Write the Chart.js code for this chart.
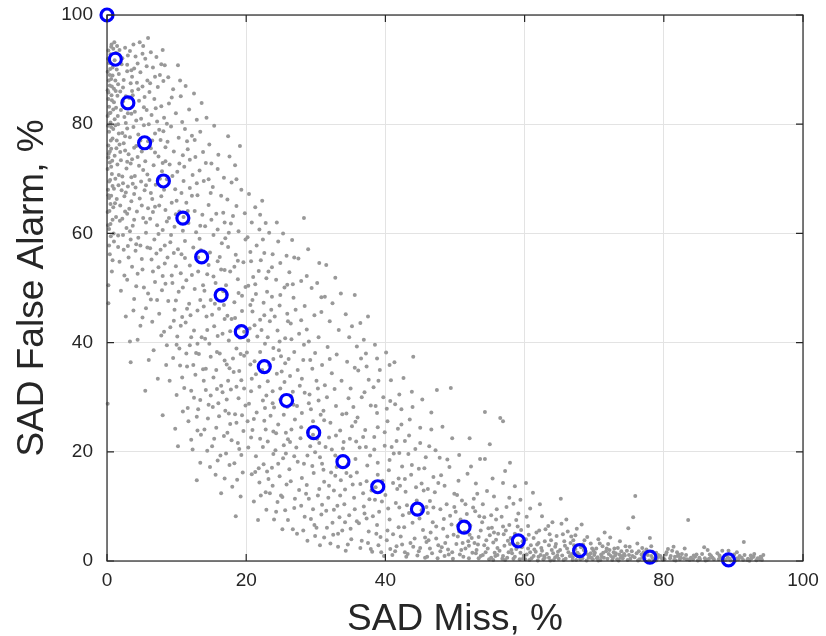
<!DOCTYPE html>
<html>
<head>
<meta charset="utf-8">
<script src="https://cdn.jsdelivr.net/npm/chart.js@4.4.1/dist/chart.umd.min.js"></script>
<style>
  body { margin: 0; background: #fff; }
  canvas { display: block; }
</style>
</head>
<body>
<canvas id="myChart" width="826" height="636"></canvas>
<script>
// operating points (blue circles)
const missRate = [0, 1.2, 3.0, 5.4, 8.1, 10.9, 13.6, 16.4, 19.3, 22.6, 25.8, 29.7, 33.9, 38.9, 44.6, 51.3, 59.1, 67.9, 78.0, 89.3];
const falseAlarm = [100, 91.9, 83.9, 76.6, 69.6, 62.8, 55.7, 48.7, 42.0, 35.6, 29.4, 23.5, 18.2, 13.6, 9.5, 6.2, 3.7, 1.9, 0.7, 0.2];

// per-configuration results (gray cloud), [miss, false alarm]
const cloud = [
  [0.2,93.5],[0.5,92.8],[0.3,91.2],[0.8,90.4],[0.1,89.6],[0.6,88.3],[0.4,87.1],[1.0,86.5],[0.2,85.8],[0.7,84.4],[0.3,83.2],[0.9,82.7],[0.1,81.5],[0.5,80.3],[1.2,79.8],[0.3,78.6],[0.8,77.4],[0.2,76.1],[0.6,75.5],[1.1,74.2],[0.4,73.0],[0.1,71.8],[0.7,70.9],[0.3,69.5],[1.0,68.2],[0.2,67.0],[0.5,65.4],[0.1,63.9],[0.8,62.5],[0.3,60.8],[0.2,47.2],[0.1,28.8],[1.3,93.1],[1.4,90.0],[1.2,88.0],[1.5,85.2],[1.3,83.0],[1.1,80.9],[1.4,77.0],[1.5,72.6],[1.2,70.0],[1.4,66.3],[1.3,63.0],[1.0,58.5],[0.6,94.2],[0.9,93.8],[0.4,89.0],[0.7,86.9],[0.2,84.6],[0.5,82.1],[0.9,79.1],[0.4,75.0],[0.6,72.2],[0.3,66.5],[0.9,64.8],[0.5,61.7],[0.4,56.2],[0.7,53.0],[0.2,50.5],[1.1,91.7],[0.8,88.9],[0.1,86.2],[1.0,84.0],[0.6,79.5],[0.2,73.9],[0.8,68.7],
  [1.8,93.6],[2.2,92.1],[2.6,94.0],[3.0,92.6],[3.3,93.4],[1.7,89.2],[2.4,88.1],[2.9,89.7],[3.4,87.5],[1.9,86.0],[2.7,85.1],[3.2,84.8],[2.0,82.6],[2.5,81.3],[3.5,81.9],[1.6,80.0],[2.2,78.4],[2.9,79.2],[3.3,77.6],[1.8,76.3],[2.6,75.2],[3.1,74.5],[2.0,73.4],[2.8,71.9],[3.4,72.8],[1.7,70.7],[2.3,69.2],[3.0,68.6],[2.5,66.8],[1.9,65.1],[3.2,64.5],[2.2,62.7],[2.8,61.0],[1.6,59.6],[3.4,58.9],[2.4,57.0],[1.8,54.8],[3.1,55.6],[2.0,49.5],[2.7,44.8],[3.3,40.2],[2.1,91.0],[2.9,90.9],[3.5,89.9],[1.6,87.3],[2.3,84.2],[3.0,82.0],[2.6,77.8],[1.9,74.9],[3.5,70.3],[2.1,67.9],[2.9,63.6],[3.3,60.4],[2.5,52.3],
  [3.8,94.6],[4.7,95.0],[5.2,94.3],[5.9,95.8],[4.1,92.4],[5.5,92.0],[3.9,90.2],[4.8,89.5],[5.7,90.6],[4.3,87.6],[5.1,86.9],[5.8,88.0],[3.7,85.3],[4.6,84.3],[5.4,85.0],[4.0,82.3],[4.9,81.0],[5.7,82.6],[3.8,79.5],[4.5,78.1],[5.3,79.8],[4.2,76.0],[5.0,75.0],[5.9,76.9],[3.6,73.6],[4.6,72.4],[5.5,73.2],[4.0,70.5],[4.9,69.5],[5.8,70.8],[3.9,67.2],[4.7,66.4],[5.4,67.9],[4.3,64.0],[5.2,62.8],[5.9,64.6],[3.7,61.4],[4.5,59.2],[5.6,60.1],[4.1,56.8],[5.0,55.3],[5.8,57.4],[4.4,52.6],[5.3,50.1],[3.9,48.0],[5.6,46.3],[4.8,43.1],[5.1,92.9],[4.4,91.1],[3.6,88.7],[5.3,83.1],[4.8,77.0],[5.6,68.8],[4.2,58.0],
  [6.3,93.2],[7.1,92.3],[8.0,93.6],[6.6,90.4],[7.6,89.0],[8.3,90.8],[6.2,87.5],[7.3,86.8],[8.1,87.9],[6.8,84.6],[7.8,83.3],[6.4,81.7],[7.2,80.5],[8.2,81.2],[6.9,78.3],[7.7,77.1],[6.3,75.6],[7.4,74.1],[8.4,75.8],[6.7,72.5],[7.9,71.4],[6.1,69.8],[7.0,68.9],[8.2,68.0],[6.5,66.3],[7.5,65.1],[8.4,64.3],[6.2,62.7],[7.2,61.5],[8.0,60.6],[6.8,58.9],[7.7,57.0],[6.4,55.2],[7.4,53.8],[8.3,54.5],[6.9,51.1],[7.9,49.6],[6.3,47.9],[7.5,45.3],[8.2,42.0],[6.7,38.6],[7.3,33.4],[6.1,85.9],[7.5,79.0],[8.0,72.9],[6.6,63.9],[7.1,56.3],[8.4,50.8],
  [8.8,88.6],[10.2,90.8],[9.5,86.4],[10.6,85.1],[8.9,83.8],[9.9,82.0],[10.8,80.4],[9.2,79.6],[10.3,77.5],[8.7,76.8],[9.6,75.0],[10.9,74.3],[9.0,72.6],[10.1,71.3],[8.6,69.9],[9.8,68.1],[10.7,67.4],[9.3,65.6],[10.4,64.0],[8.9,62.8],[9.7,61.2],[10.9,60.5],[9.1,58.4],[10.2,57.1],[8.7,55.6],[9.9,54.0],[10.6,52.7],[9.4,50.9],[10.3,49.3],[8.8,47.6],[9.7,46.0],[10.8,44.7],[9.1,42.8],[10.1,41.1],[8.6,39.5],[9.5,37.2],[10.5,35.8],[9.0,33.0],[10.0,30.4],[9.8,24.2],[10.2,21.0],[8.0,26.7],[9.3,84.9],[10.5,88.0],[8.6,80.1],[10.0,66.0],[9.2,59.7],[10.7,56.2],[9.6,44.0],[10.4,38.9],
  [11.3,87.0],[12.5,85.6],[13.6,83.9],[11.8,82.7],[12.9,80.8],[11.2,79.1],[12.2,77.9],[13.4,78.6],[11.6,75.4],[12.7,74.0],[13.8,74.9],[11.1,72.2],[12.3,70.7],[13.3,71.5],[11.9,68.3],[13.0,67.0],[11.4,65.6],[12.6,64.1],[13.7,63.4],[11.7,61.9],[12.8,60.2],[11.2,58.6],[12.4,57.4],[13.5,56.9],[11.9,54.1],[13.1,53.0],[11.4,51.4],[12.6,49.8],[13.8,50.5],[11.8,47.1],[13.0,45.9],[11.3,43.7],[12.5,42.2],[13.6,41.0],[11.9,39.5],[13.2,37.9],[11.5,35.6],[12.7,34.1],[13.9,33.0],[12.1,31.2],[13.4,29.5],[11.6,28.0],[12.9,26.4],[13.5,23.1],[12.3,20.4],[13.4,18.0],[12.9,14.8],[11.0,63.0],[12.0,45.0],[13.3,59.0],[12.2,66.9],[13.9,46.6],[11.5,76.9],[12.8,38.1],[13.1,27.8],
  [14.3,81.2],[15.4,79.7],[16.0,74.4],[17.4,77.8],[14.7,76.3],[15.9,71.8],[16.8,70.2],[14.2,72.9],[15.2,68.5],[16.4,66.9],[14.6,65.2],[15.7,63.6],[16.9,62.0],[14.1,61.3],[15.3,59.7],[16.5,58.2],[14.8,56.5],[15.9,54.9],[16.9,53.3],[14.4,52.5],[15.6,50.9],[16.7,49.4],[14.9,47.8],[16.1,46.2],[14.3,44.8],[15.4,43.0],[16.6,41.6],[14.7,39.8],[15.8,38.3],[16.9,36.7],[14.2,35.2],[15.3,33.6],[16.4,32.1],[14.9,30.3],[16.0,28.9],[17.0,27.5],[14.5,26.1],[15.7,24.4],[16.8,22.9],[15.1,21.0],[16.3,19.3],[14.8,17.2],[16.4,12.4],[15.6,15.8],[16.9,44.3],[15.0,62.5],[16.2,55.7],[14.6,69.9],[17.0,59.1],[15.5,47.1],[14.1,40.7],[16.6,30.9],[15.2,28.2],
  [17.6,74.1],[18.4,72.5],[19.1,76.0],[17.9,69.3],[19.3,68.0],[17.3,66.2],[18.6,65.0],[19.8,63.7],[17.8,61.8],[18.9,60.4],[19.9,58.9],[17.4,57.5],[18.5,56.1],[19.6,54.7],[17.7,53.0],[18.8,51.6],[19.9,50.2],[17.2,48.9],[18.3,47.4],[19.4,45.8],[17.9,44.3],[18.9,42.7],[17.5,40.4],[18.6,38.9],[19.7,37.6],[17.2,36.0],[18.2,34.6],[19.3,33.1],[17.8,31.4],[18.9,29.8],[19.9,28.5],[17.5,27.0],[18.6,25.3],[19.6,23.8],[17.9,22.1],[19.0,20.5],[18.3,17.9],[19.5,16.2],[18.0,13.6],[19.2,11.8],[18.5,8.2],[17.1,19.7],[18.1,63.2],[19.4,48.6],[17.6,35.3],[19.1,40.9],[18.8,55.0],[17.3,44.9],[19.7,31.6],[18.4,26.9],
  [20.4,67.2],[21.3,64.8],[22.3,66.0],[20.8,62.0],[21.9,60.7],[22.8,61.9],[20.2,59.3],[21.5,57.8],[22.6,56.4],[20.7,54.9],[21.8,53.1],[22.9,51.8],[20.3,50.4],[21.4,48.9],[22.5,47.3],[20.9,45.7],[22.0,44.2],[20.5,42.6],[21.6,41.1],[22.7,39.8],[20.1,38.2],[21.2,36.6],[22.3,35.0],[20.8,33.4],[21.9,31.9],[22.9,30.3],[20.4,28.8],[21.5,27.2],[22.6,25.7],[20.9,24.0],[22.0,22.4],[20.3,20.8],[21.4,19.2],[22.5,17.7],[20.8,15.9],[21.9,14.4],[22.8,12.6],[21.1,10.9],[21.7,7.5],[22.9,9.4],[20.6,36.0],[22.2,42.3],[21.0,52.0],[22.7,28.0],[20.2,25.6],[21.8,17.0],[22.4,58.9],[20.6,46.9],
  [23.3,60.1],[24.6,58.5],[25.3,60.0],[23.8,56.2],[24.9,54.6],[25.8,55.9],[23.2,53.0],[24.3,51.5],[25.5,50.1],[23.7,48.4],[24.8,46.8],[25.9,45.3],[23.4,43.9],[24.5,42.2],[25.6,40.8],[23.9,39.0],[25.0,37.5],[23.3,35.9],[24.4,34.3],[25.5,32.8],[23.8,31.1],[24.9,29.6],[25.9,28.2],[23.5,26.6],[24.6,25.0],[25.7,23.5],[23.1,21.9],[24.2,20.3],[25.3,18.8],[23.7,17.1],[24.8,15.5],[25.8,14.0],[23.4,12.4],[24.5,10.8],[25.6,9.3],[24.0,7.6],[25.2,5.8],[23.6,46.0],[25.1,34.7],[24.0,28.1],[25.4,21.2],[23.2,15.0],[24.7,38.6],[25.9,50.6],[23.9,23.7],[25.0,12.0],
  [28.3,62.8],[26.6,58.8],[27.5,55.4],[28.9,57.1],[26.2,52.9],[27.9,51.3],[29.4,50.0],[26.8,48.2],[28.4,46.7],[29.8,45.0],[26.4,43.5],[27.6,41.6],[29.0,40.2],[26.9,38.3],[28.2,36.8],[29.5,35.2],[26.3,33.9],[27.7,32.1],[29.1,30.5],[26.8,28.6],[28.0,27.1],[29.6,25.6],[26.5,24.1],[27.8,22.5],[29.2,21.0],[26.9,19.2],[28.3,17.8],[29.7,16.1],[26.4,14.6],[27.6,13.0],[29.0,11.4],[26.9,9.7],[28.4,8.1],[29.8,6.6],[27.3,5.0],[28.8,3.7],[29.9,19.9],[27.1,46.0],[28.7,42.4],[26.1,37.0],[29.3,27.8],[27.4,18.2],[28.6,12.3],[26.7,31.0],[29.6,9.5],[28.0,33.4],[27.0,25.9],[29.9,38.1],[26.3,21.8],[28.9,23.6],
  [30.5,54.6],[31.5,54.2],[31.3,48.4],[30.2,50.9],[32.4,47.2],[33.6,49.0],[30.8,45.6],[32.0,43.9],[33.3,42.3],[30.4,41.0],[31.7,39.2],[33.0,37.8],[30.9,35.9],[32.3,34.4],[33.7,33.0],[30.3,31.6],[31.6,30.0],[32.9,28.4],[30.7,26.8],[32.1,25.3],[33.5,23.9],[30.2,22.4],[31.4,20.9],[32.8,19.3],[30.9,17.8],[32.2,16.2],[33.6,14.8],[30.5,13.2],[31.8,11.6],[33.1,10.1],[30.8,8.5],[32.4,7.0],[33.8,5.6],[31.2,4.3],[33.2,2.6],[32.0,37.0],[31.1,27.5],[33.9,20.6],[30.6,19.0],[32.6,12.9],[31.5,9.2],[33.4,8.0],[30.1,6.1],[32.7,31.5],[31.9,22.6],[33.0,17.2],[30.4,29.4],[31.2,14.5],[33.8,26.9],[32.5,4.8],
  [35.6,48.7],[34.3,45.2],[36.4,43.6],[37.5,44.8],[34.8,41.0],[35.9,39.3],[37.2,38.0],[34.5,36.5],[36.1,34.9],[37.6,33.2],[35.0,31.6],[36.6,30.0],[37.9,28.5],[34.4,27.0],[35.7,25.5],[37.1,24.0],[34.9,22.4],[36.3,20.8],[37.8,19.3],[34.6,17.7],[35.9,16.2],[37.3,14.6],[34.2,13.1],[35.5,11.6],[36.9,10.0],[34.8,8.4],[36.2,6.9],[37.6,5.4],[35.1,4.0],[36.6,3.7],[37.9,2.2],[34.3,1.9],[36.0,26.3],[37.4,17.5],[35.3,14.0],[36.8,12.4],[34.7,29.8],[37.0,8.7],[35.8,21.9],[36.5,37.1],[34.1,10.4],[37.7,11.3],
  [38.5,39.6],[40.1,38.2],[41.3,36.4],[39.2,35.0],[40.8,33.1],[38.3,31.8],[39.7,30.0],[41.4,28.7],[38.8,27.1],[40.3,25.6],[41.8,24.2],[38.4,22.7],[39.9,21.1],[41.2,19.7],[38.9,18.0],[40.5,16.6],[41.9,15.1],[38.6,13.5],[40.0,12.1],[41.5,10.6],[39.1,9.0],[40.6,7.6],[41.9,6.2],[38.7,5.0],[40.2,3.8],[41.6,2.7],[39.4,1.6],[41.0,1.1],[38.2,8.2],[39.6,14.7],[40.9,20.9],[41.7,13.2],[38.9,24.5],[40.4,9.6],[39.3,4.4],[41.1,4.9],[38.5,11.2],[40.7,29.3],
  [44.0,37.4],[42.6,33.5],[43.8,31.0],[45.3,29.6],[42.3,27.8],[43.5,25.9],[45.0,24.4],[42.8,22.0],[44.3,20.5],[45.8,19.0],[42.4,17.3],[43.7,15.8],[45.2,14.2],[42.9,12.7],[44.5,11.1],[45.9,9.9],[42.5,8.4],[43.9,7.0],[45.4,5.7],[42.2,4.5],[43.6,3.3],[45.0,2.4],[42.8,1.6],[44.6,1.0],[45.7,0.6],[43.1,10.2],[44.8,16.9],[42.7,6.2],[45.5,12.9],[44.2,4.1],[43.3,19.6],[45.9,3.5],[42.1,13.8],[44.9,7.8],
  [47.4,31.3],[49.4,31.7],[46.6,27.2],[48.2,24.6],[49.6,22.5],[46.3,21.0],[47.8,18.9],[49.2,17.2],[46.9,15.4],[48.5,13.8],[49.9,12.3],[46.4,11.0],[47.9,9.5],[49.3,8.3],[46.8,7.1],[48.3,5.9],[49.8,4.8],[46.2,3.8],[47.6,2.9],[49.0,2.1],[46.7,1.4],[48.5,0.9],[49.7,0.4],[47.1,12.6],[48.8,10.4],[46.5,5.2],[49.5,6.7],[47.3,4.1],[48.0,15.7],[46.1,8.8],[49.1,1.2],[47.9,1.8],[48.6,3.3],
  [54.3,27.3],[52.1,22.5],[53.6,18.7],[54.3,18.7],[55.0,21.4],[50.6,19.4],[51.8,16.0],[53.0,14.2],[54.6,12.8],[50.3,12.1],[51.5,10.4],[52.9,9.1],[54.2,8.0],[50.8,7.6],[52.2,6.5],[53.7,5.6],[55.0,4.7],[50.4,4.5],[51.9,3.6],[53.3,3.0],[54.7,2.3],[50.9,2.0],[52.5,1.5],[54.0,1.1],[51.2,0.8],[53.4,0.5],[54.9,0.3],[50.1,9.0],[52.7,11.4],[51.4,5.3],[53.9,7.1],[52.0,2.8],[54.5,3.8],[50.7,1.2],[53.1,2.0],[51.7,8.6],[54.8,6.0],[52.4,4.2],[50.2,3.1],
  [56.5,26.2],[56.9,25.6],[57.2,16.5],[56.9,14.3],[58.6,13.7],[55.6,11.8],[57.4,9.9],[59.1,8.7],[55.9,7.6],[57.8,6.6],[59.5,5.7],[56.2,5.0],[58.0,4.2],[59.7,3.6],[55.5,3.4],[57.1,2.8],[58.8,2.2],[56.4,1.9],[58.2,1.4],[59.9,1.0],[55.8,0.9],[57.5,0.6],[59.3,0.3],[56.7,8.1],[58.4,10.5],[55.3,6.1],[57.9,3.1],[59.6,2.5],[56.1,2.4],[58.6,0.8],[57.0,4.9],[55.7,1.5],[59.0,6.3],[56.8,0.4],[58.1,2.0],
  [60.2,14.3],[61.2,12.5],[60.8,9.6],[62.5,8.2],[64.0,7.1],[60.5,6.4],[62.1,5.6],[63.6,4.9],[61.3,4.2],[62.9,3.6],[64.5,3.1],[60.9,2.9],[62.4,2.4],[63.9,2.0],[61.6,1.7],[63.2,1.3],[64.7,1.0],[60.3,1.2],[62.0,0.8],[63.5,0.6],[64.9,0.4],[61.0,0.5],[62.7,0.3],[64.2,0.2],[63.0,5.8],[61.8,3.0],[64.4,2.6],[60.6,4.8],[62.3,1.1],[63.8,3.8],[61.4,2.1],[64.8,1.7],[60.1,0.3],[62.8,0.9],
  [65.2,11.4],[66.0,7.6],[67.5,5.9],[69.0,4.4],[65.5,4.9],[67.0,3.8],[68.4,3.0],[69.7,2.3],[65.8,2.8],[67.3,2.2],[68.8,1.7],[66.3,1.6],[67.8,1.2],[69.3,0.9],[65.4,1.0],[66.9,0.7],[68.3,0.5],[69.8,0.3],[65.9,0.4],[67.4,0.2],[68.9,0.1],[66.6,3.3],[68.1,2.5],[69.5,1.4],[65.1,2.0],[67.7,0.9],[66.2,5.4],[68.6,3.8],[69.9,1.9],[66.8,1.3],[65.6,0.2],[68.0,0.3],[69.2,0.6],
  [70.6,4.0],[72.0,3.1],[73.4,2.4],[74.7,1.9],[70.3,2.3],[71.7,1.8],[73.1,1.4],[74.4,1.0],[71.0,1.2],[72.4,0.9],[73.8,0.6],[70.5,0.7],[71.9,0.4],[73.3,0.3],[74.8,0.2],[71.2,2.7],[72.8,1.6],[74.1,0.5],[70.1,1.5],[72.6,0.2],[73.7,3.6],[71.5,5.2],[74.9,6.0],[70.9,0.2],[72.2,2.0],[74.3,1.3],[71.4,0.6],[73.0,1.0],
  [75.9,11.9],[75.6,8.0],[76.2,3.2],[77.5,2.1],[78.9,1.5],[75.4,1.8],[76.8,1.2],[78.2,0.9],[79.6,0.6],[75.8,0.7],[77.2,0.5],[78.6,0.3],[79.9,0.2],[76.5,0.3],[77.9,0.1],[79.2,1.1],[75.2,0.4],[76.9,2.4],[78.4,1.7],[79.5,0.9],[77.0,0.8],[78.0,4.2],[76.1,1.4],[79.0,0.4],
  [83.5,7.5],[80.6,2.2],[81.9,1.6],[83.2,1.1],[84.5,0.8],[80.3,1.2],[81.6,0.8],[82.9,0.5],[84.2,0.3],[80.9,0.5],[82.3,0.3],[83.7,0.2],[84.9,0.1],[81.2,1.9],[82.6,1.3],[83.9,0.6],[80.1,0.3],[82.0,0.9],[84.7,1.2],[81.5,0.2],[83.0,2.3],
  [85.5,1.3],[86.8,0.9],[88.1,0.6],[89.4,0.4],[90.7,0.3],[92.0,0.2],[93.3,0.15],[85.9,0.5],[87.2,0.3],[88.6,0.2],[89.9,0.8],[91.2,0.6],[92.6,0.5],[93.8,0.3],[86.3,2.0],[87.7,1.4],[89.0,1.0],[90.3,0.1],[91.6,1.1],[92.9,0.8],[94.3,1.1],[91.5,3.5],[86.0,0.1],[88.4,1.9],[90.5,1.6],[93.0,1.3],[94.0,0.6],[87.0,0.6],[89.6,0.1],[92.3,0.05],[85.2,0.3],[90.9,0.9],
  [0.15,92.0],[0.45,90.1],[0.25,88.0],[0.65,85.3],[0.35,82.0],[0.15,79.7],[0.55,77.0],[0.25,74.6],[0.75,73.3],[0.45,69.8],[0.15,68.0],[0.6,66.9],[0.35,64.1],[0.15,61.5],[0.55,59.5],[1.25,86.1],[1.55,81.5],[1.7,78.3],[1.35,75.6],[1.65,68.8],[1.15,65.5],[1.85,62.3],[0.95,60.0],[1.6,57.5],[0.65,94.6],[1.05,95.0],[1.45,94.3],[0.3,57.8],[0.8,55.1],
  [2.3,86.7],[3.6,86.1],[4.5,86.4],[6.9,88.7],[7.8,91.0],[2.7,80.2],[4.2,80.7],[6.0,80.0],[7.0,82.9],[2.4,76.5],[3.9,75.7],[6.5,77.0],[8.1,78.7],[2.9,73.1],[4.4,74.0],[6.9,74.8],[8.4,73.2],[2.2,70.4],[3.7,69.1],[5.2,71.6],[7.6,70.0],[2.7,67.5],[4.1,68.4],[6.3,67.4],[7.8,66.8],[3.5,65.9],[5.0,65.1],[6.9,64.9],[8.6,62.2],[2.6,64.0],[3.9,62.5],[5.6,62.0],[7.4,59.9],[2.3,59.7],[3.0,57.7],[4.8,57.8],[6.2,57.3],[8.3,57.8],[3.6,53.9],[5.1,53.4],[6.6,53.0],[8.0,52.2],[2.9,51.5],[4.2,50.3],[5.9,49.0],[7.2,47.8],[3.8,45.9],[5.1,44.6],[6.5,43.8],[7.8,41.3],[4.4,40.5],[6.0,36.8],[8.5,35.9],[5.5,31.2],[3.4,36.4],
  [9.4,70.5],[11.0,69.6],[12.9,69.2],[14.9,67.4],[9.9,63.5],[11.6,64.1],[13.4,61.4],[15.9,60.7],[17.5,60.1],[9.6,56.4],[11.2,55.5],[13.1,55.6],[14.6,54.2],[16.4,53.4],[18.3,53.9],[9.3,52.3],[10.9,50.1],[12.2,52.4],[14.0,49.5],[15.3,52.1],[17.1,50.5],[18.9,49.1],[9.9,47.7],[11.5,46.2],[13.4,47.8],[15.1,45.1],[16.8,46.9],[18.4,44.5],[19.7,42.0],[10.6,43.1],[12.1,41.0],[14.4,42.3],[15.9,41.2],[17.7,42.1],[19.2,37.9],[10.0,39.6],[11.4,38.0],[13.0,39.8],[14.9,37.4],[16.2,38.0],[18.1,37.1],[10.8,33.6],[12.4,35.9],[13.8,35.1],[15.7,35.0],[17.4,33.0],[19.0,34.8],[11.1,31.7],[12.5,29.9],[14.2,31.3],[15.8,31.5],[17.2,29.6],[18.6,31.9],[11.7,25.6],[13.0,23.9],[14.6,28.6],[16.1,26.5],[17.7,25.1],[19.4,26.7],[12.1,22.2],[14.0,24.1],[15.4,22.4],[17.3,23.5],[18.8,21.6],[14.4,20.2],[15.9,18.4],[17.6,17.6],[19.3,19.4],[16.9,15.1],[18.7,14.9],[10.9,27.4],[12.6,77.1],[13.9,69.6],[15.0,72.8],[10.4,72.8],[11.9,73.5],[16.7,63.8],[18.6,69.9],
  [20.6,56.6],[22.1,55.1],[23.7,53.8],[21.3,50.7],[23.0,49.3],[24.9,48.7],[26.7,50.7],[20.9,47.8],[22.6,45.0],[24.1,44.8],[26.0,43.9],[27.9,44.1],[21.2,43.2],[23.1,41.0],[24.8,40.2],[26.5,40.6],[28.3,39.6],[20.3,40.4],[22.0,38.3],[23.9,37.0],[25.6,36.2],[27.4,35.0],[29.2,36.8],[21.4,34.2],[23.1,32.9],[24.9,31.6],[26.4,30.2],[28.4,30.8],[30.1,33.0],[20.7,31.1],[22.4,29.4],[23.8,28.9],[25.4,26.8],[27.3,28.4],[29.0,28.9],[31.3,32.2],[21.1,26.0],[22.8,24.1],[24.3,23.4],[26.0,22.3],[27.9,24.5],[29.6,23.1],[31.2,25.8],[32.9,23.0],[20.7,22.6],[22.4,20.9],[23.9,19.6],[25.7,19.7],[27.2,20.8],[28.8,19.3],[30.5,21.6],[32.3,20.4],[34.0,21.8],[21.3,16.3],[23.0,16.4],[24.6,17.8],[26.2,16.8],[28.0,15.2],[29.5,17.4],[31.1,16.7],[32.8,15.6],[34.4,16.1],[22.1,12.0],[23.8,13.8],[25.2,11.7],[27.0,11.4],[28.7,13.9],[30.3,12.0],[31.9,13.8],[33.5,12.0],[24.3,9.0],[26.0,7.5],[27.9,10.1],[29.3,7.7],[30.9,10.3],[32.6,9.4],[34.2,7.1],[26.7,5.8],[28.2,5.6],[29.9,4.6],[31.6,6.1],[33.2,5.0],[35.0,5.9],[30.6,2.9],[32.1,3.2],[34.6,3.0],[24.4,62.0],[26.9,55.6],[28.7,52.2],[30.8,48.3],[32.8,51.9],[22.0,63.4],
  [35.2,43.0],[36.9,40.5],[38.8,37.1],[35.6,35.4],[37.3,35.6],[39.0,33.0],[40.6,35.9],[42.0,30.5],[35.4,28.2],[37.0,30.9],[38.6,28.4],[40.2,27.9],[42.3,25.0],[43.9,28.2],[35.2,24.7],[36.8,22.7],[38.4,20.4],[39.9,23.6],[41.6,22.0],[43.4,23.0],[45.0,21.6],[46.6,24.1],[35.7,18.7],[37.2,20.9],[38.9,15.8],[40.6,18.5],[42.0,19.8],[43.8,17.6],[45.6,17.0],[47.2,20.3],[35.0,15.5],[36.4,14.1],[38.0,12.9],[39.5,10.9],[41.1,14.3],[42.8,15.0],[44.4,13.5],[46.1,13.2],[47.6,14.3],[48.9,18.6],[35.6,9.5],[37.3,7.8],[38.8,6.6],[40.3,5.6],[42.0,9.8],[43.4,8.8],[45.2,9.3],[46.9,9.8],[48.4,7.7],[49.9,9.9],[35.9,7.3],[37.5,3.3],[39.0,2.9],[40.7,2.2],[42.4,3.0],[44.0,2.6],[45.7,4.3],[47.3,6.3],[48.9,4.5],[36.4,2.4],[38.1,1.7],[39.8,0.9],[41.4,1.8],[43.2,1.3],[44.8,1.8],[46.4,2.3],[48.1,2.5],[49.6,1.6],[43.0,0.8],[46.0,0.8],[47.5,0.5],
  [50.5,14.7],[52.3,17.3],[53.2,12.3],[55.4,15.1],[57.9,18.0],[51.0,11.1],[52.6,9.8],[54.0,10.4],[56.0,9.5],[57.8,11.6],[59.4,11.2],[50.4,6.5],[51.6,7.2],[53.5,8.2],[55.2,8.4],[56.9,6.3],[58.8,7.5],[60.3,8.1],[62.2,10.4],[50.6,5.4],[52.1,4.8],[53.4,4.4],[55.6,5.2],[57.3,5.6],[58.6,5.0],[60.2,4.0],[61.7,5.2],[63.4,6.4],[51.1,3.3],[52.8,3.3],[54.2,2.9],[55.9,3.9],[57.6,3.7],[59.0,3.2],[60.5,2.3],[62.0,3.3],[63.5,2.9],[64.6,4.6],[51.5,2.3],[53.0,1.4],[54.4,1.6],[56.1,1.1],[57.7,1.6],[59.4,1.5],[60.8,1.6],[62.5,1.9],[64.1,1.4],[52.0,0.5],[53.7,0.9],[55.2,0.6],[56.9,0.9],[58.4,0.4],[59.8,0.5],[61.3,0.9],[62.9,0.6],[64.4,0.7],[55.5,0.2],[57.2,0.2],[60.7,0.2],[63.7,0.1],[61.9,0.1],
  [65.3,6.8],[66.7,4.5],[68.2,6.7],[69.5,3.2],[70.8,3.2],[72.3,4.3],[73.9,1.8],[65.7,3.6],[67.1,2.9],[68.5,2.0],[70.0,1.1],[71.3,1.5],[72.9,2.3],[74.5,2.7],[66.1,2.3],[67.6,1.5],[69.1,1.2],[70.4,0.5],[72.1,1.3],[73.6,1.2],[75.0,1.1],[76.4,1.8],[77.7,1.1],[79.1,0.7],[66.5,0.9],[68.0,0.7],[69.6,0.6],[71.1,0.8],[72.7,0.6],[74.0,0.9],[75.5,0.9],[76.9,0.6],[78.4,0.5],[79.8,0.4],[81.0,0.9],[82.4,0.7],[83.8,0.4],[85.1,0.6],[86.5,0.4],[87.9,0.3],[89.2,0.6],[90.6,0.5],[92.1,0.4],[93.5,0.5],[66.9,0.2],[70.6,0.1],[73.5,0.1],[76.3,0.1],[78.9,0.1],[81.7,0.1],[83.3,0.3],[86.2,0.2],[88.9,0.2],[91.4,0.2],[94.1,0.2],[77.1,1.6],[80.4,1.6],[82.1,1.2],[84.3,1.0],[86.6,1.2],[88.0,1.0],[90.1,1.2],[92.5,1.0],[93.9,0.8],[67.3,4.7],[71.8,2.3],[75.1,2.6],[78.2,2.7],[81.4,2.6],[85.8,2.5],[89.3,1.9]
];

const tickValues = [0, 20, 40, 60, 80, 100];
const xTitle = 'SAD Miss, %';
const yTitle = 'SAD False Alarm, %';

const axisColor = '#262626';
const fontFamily = '"Liberation Sans", Arial, Helvetica, sans-serif';

// box around the axes, inward ticks on all four sides, axis titles
const matlabBox = {
  id: 'matlabBox',
  afterDatasetsDraw(chart) {
    const { ctx, chartArea: { left, top, right, bottom }, scales: { x, y } } = chart;
    ctx.save();
    ctx.strokeStyle = axisColor;
    ctx.lineWidth = 1.2;
    ctx.strokeRect(left, top, right - left, bottom - top);
    const tl = 7;
    ctx.beginPath();
    tickValues.forEach(v => {
      const px = x.getPixelForValue(v);
      ctx.moveTo(px, bottom); ctx.lineTo(px, bottom - tl);
      ctx.moveTo(px, top); ctx.lineTo(px, top + tl);
      const py = y.getPixelForValue(v);
      ctx.moveTo(left, py); ctx.lineTo(left + tl, py);
      ctx.moveTo(right, py); ctx.lineTo(right - tl, py);
    });
    ctx.stroke();
    ctx.restore();
  },
  afterDraw(chart) {
    const { ctx, chartArea: { left, top, right, bottom } } = chart;
    ctx.save();
    ctx.fillStyle = axisColor;
    ctx.font = '37px ' + fontFamily;
    ctx.textAlign = 'center';
    ctx.textBaseline = 'alphabetic';
    ctx.fillText(xTitle, (left + right) / 2, 630);
    ctx.translate(43, (top + bottom) / 2);
    ctx.rotate(-Math.PI / 2);
    ctx.fillText(yTitle, 0, 0);
    ctx.restore();
  }
};

const ctx = document.getElementById('myChart').getContext('2d');

new Chart(ctx, {
  type: 'scatter',
  data: {
    datasets: [
      {
        label: 'operating points',
        data: missRate.map((m, i) => ({ x: m, y: falseAlarm[i] })),
        pointStyle: 'circle',
        pointRadius: 6,
        pointBorderWidth: 3.2,
        pointBorderColor: '#0000ff',
        pointBackgroundColor: 'rgba(0,0,0,0)',
        clip: false,
        order: 1
      },
      {
        label: 'configurations',
        data: cloud.map(p => ({ x: p[0], y: p[1] })),
        pointRadius: 2,
        pointBorderWidth: 0,
        pointBackgroundColor: '#999999',
        clip: false,
        order: 2
      }
    ]
  },
  options: {
    responsive: false,
    animation: false,
    devicePixelRatio: 1,
    layout: { padding: { left: 0, top: 15, right: 23, bottom: 0 } },
    plugins: {
      legend: { display: false },
      tooltip: { enabled: false }
    },
    scales: {
      x: {
        type: 'linear',
        min: 0,
        max: 100,
        afterBuildTicks: s => { s.ticks = tickValues.map(v => ({ value: v })); },
        afterFit: s => { s.height = 75; s.paddingLeft = 0; s.paddingRight = 0; },
        grid: { color: '#e3e3e3', lineWidth: 1, drawTicks: false },
        border: { display: false },
        ticks: { color: axisColor, font: { family: fontFamily, size: 19 }, padding: 8, maxRotation: 0 }
      },
      y: {
        type: 'linear',
        min: 0,
        max: 100,
        afterBuildTicks: s => { s.ticks = tickValues.map(v => ({ value: v })); },
        afterFit: s => { s.width = 107; s.paddingTop = 0; s.paddingBottom = 0; },
        grid: { color: '#e3e3e3', lineWidth: 1, drawTicks: false },
        border: { display: false },
        ticks: { color: axisColor, font: { family: fontFamily, size: 19 }, padding: 14 }
      }
    }
  },
  plugins: [matlabBox]
});
</script>
</body>
</html>
